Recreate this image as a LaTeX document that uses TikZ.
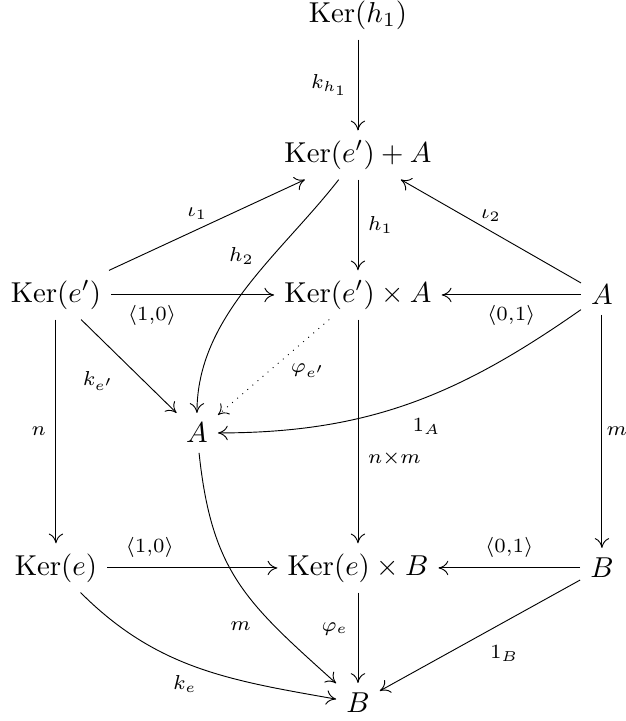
\documentclass[tikz,border=0pt]{standalone}
\usepackage{amsmath}
\usepackage{amssymb}
\usepackage{pgf,tikz}
\usetikzlibrary{arrows.meta}

\begin{document}
\begin{tikzpicture}[scale=1,>={Computer Modern Rightarrow[length=3.4pt,width=5pt]},lbl/.style={font=\scriptsize},map/.style={->,line width=0.32pt}]
\useasboundingbox (0,0) rectangle (7.63,-8.80);
\node (kerh) at (4.369,-0.183) {$\mathrm{Ker}(h_1)$};
\node (sum) at (4.369,-1.892) {$\mathrm{Ker}(e')+A$};
\node (kerep) at (0.683,-3.600) {$\mathrm{Ker}(e')$};
\node (prodA) at (4.369,-3.600) {$\mathrm{Ker}(e')\times A$};
\node (Ar) at (7.347,-3.600) {$A$};
\node (Am) at (2.404,-5.284) {$A$};
\node (kere) at (0.683,-6.932) {$\mathrm{Ker}(e)$};
\node (prodB) at (4.369,-6.932) {$\mathrm{Ker}(e)\times B$};
\node (Br) at (7.347,-6.932) {$B$};
\node (Bb) at (4.369,-8.580) {$B$};
\draw[map] (kerh) -- (sum) node[lbl,midway,left]{$k_{h_1}$};
\draw[map] (sum) -- (prodA) node[lbl,midway,right]{$h_1$};
\draw[map] (kerep) -- (sum) node[lbl,pos=0.45,above]{$\iota_1$};
\draw[map] (Ar) -- (sum) node[lbl,midway,above]{$\iota_2$};
\draw[map] (sum) to[out=232,in=90,looseness=0.9] node[lbl,pos=0.35,left=3pt]{$h_2$} (Am);
\draw[map] (kerep) -- (prodA) node[lbl,pos=0.25,below]{$\langle 1{,}0\rangle$};
\draw[map] (Ar) -- (prodA) node[lbl,midway,below]{$\langle 0{,}1\rangle$};
\draw[map] (kerep) -- (Am) node[lbl,pos=0.45,below left]{$k_{e'}$};
\draw[map,dotted] (prodA) -- (Am) node[lbl,pos=0.4,below right,inner sep=2pt]{$\varphi_{e'}$};
\draw[map] (Ar) to[out=215,in=0] node[lbl,pos=0.45,below=4pt]{$1_A$} (Am);
\draw[map] (kerep) -- (kere) node[lbl,midway,left]{$n$};
\draw[map] (prodA) -- (prodB) node[lbl,pos=0.62,right]{$n{\times}m$};
\draw[map] (Ar) -- (Br) node[lbl,midway,right,inner sep=1.5pt]{$m$};
\draw[map] (kere) -- (prodB) node[lbl,pos=0.25,above]{$\langle 1{,}0\rangle$};
\draw[map] (Br) -- (prodB) node[lbl,midway,above]{$\langle 0{,}1\rangle$};
\draw[map] (Am) to[out=-84,in=138,looseness=1.15] node[lbl,pos=0.65,below left]{$m$} (Bb);
\draw[map] (prodB) -- (Bb) node[lbl,pos=0.4,left]{$\varphi_e$};
\draw[map] (kere) to[out=-45,in=170] node[lbl,pos=0.45,below=1pt]{$k_e$} (Bb);
\draw[map] (Br) -- (Bb) node[lbl,midway,below right]{$1_B$};
\end{tikzpicture}
\end{document}
